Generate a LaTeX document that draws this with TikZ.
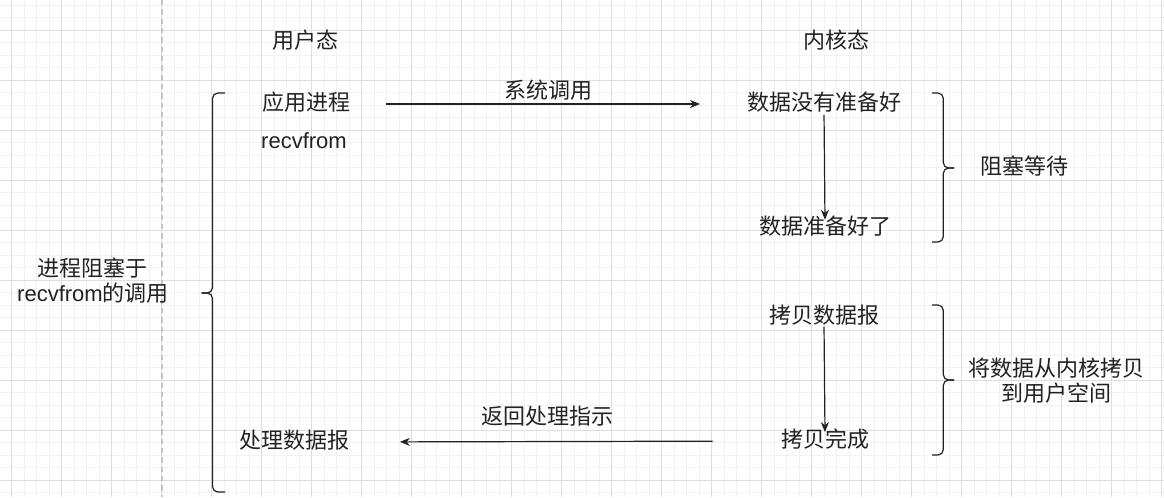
\documentclass[tikz,border=0pt]{standalone}
\usepackage{fontspec}
\setmainfont{Noto Sans CJK SC}
\newfontfamily\lat{Liberation Sans}
\usetikzlibrary{arrows.meta}
\definecolor{minorgrid}{HTML}{F2F2F2}
\definecolor{majorgrid}{HTML}{DEDEDE}
\definecolor{dashgray}{HTML}{C4C4C4}
\definecolor{ink}{HTML}{222222}
\tikzset{
  lbl/.style={inner sep=0pt, text height=0.96em, text depth=0.04em, font=\fontsize{16.5pt}{20pt}\selectfont, text=ink},
  multi/.style={inner sep=0pt, align=center, font=\fontsize{16.5pt}{18.8pt}\selectfont, text=ink},
  flow/.style={draw=ink, line width=0.9pt, -{Stealth[length=7.5pt,width=6pt]}},
  brace/.style={draw=ink, line width=0.9pt, rounded corners=4pt},
  minorline/.style={draw=minorgrid, line width=0.75pt},
  majorline/.style={draw=majorgrid, line width=0.75pt},
}
\begin{document}
\begin{tikzpicture}[x=0.75pt, y=-0.75pt]
\useasboundingbox (0,0) rectangle (1164,497);
\fill[white] (0,0) rectangle (1164,497);
% grid
\foreach \i in {0,...,93} {\draw[minorline] ({-0.8+12.5*\i},0) -- ({-0.8+12.5*\i},497);}
\foreach \i in {0,...,39} {\draw[minorline] (0,{5+12.5*\i}) -- (1164,{5+12.5*\i});}
\foreach \i in {0,...,23} {\draw[majorline] ({11.7+50*\i},0) -- ({11.7+50*\i},497);}
\foreach \i in {0,...,9} {\draw[majorline] (0,{30+50*\i}) -- (1164,{30+50*\i});}
% dashed separator
\draw[dashgray, line width=0.9pt, dash pattern=on 4pt off 3pt] (162,0) -- (162,497);

% headers
\node[lbl] (user) at (305,42) {用户态};
\node[lbl] (kernel) at (836,42) {内核态};

% user side
\node[lbl] (app) at (306,104) {应用进程};
\node[lbl] (recv) at (304,142) {\lat recvfrom};
\node[lbl] (proc) at (294,442) {处理数据报};

% kernel side
\node[lbl] (notready) at (824,104) {数据没有准备好};
\node[lbl] (ready) at (825,228) {数据准备好了};
\node[lbl] (copy) at (824,317) {拷贝数据报};
\node[lbl] (done) at (825,441) {拷贝完成};

% right labels
\node[lbl] (wait) at (1024,168) {阻塞等待};
\node[multi] (copydesc) at (1056,381) {将数据从内核拷贝\\到用户空间};
\node[multi] (block) at (93,281) {进程阻塞于\\{\lat recvfrom}的调用};

% connectors
\draw[flow, shorten <=27pt, shorten >=35pt] (app.east) -- (notready.west)
  node[lbl, pos=0.5, yshift=9pt] (syscall) {系统调用};
\draw[flow, shorten <=3pt, shorten >=1pt] (notready.south) -- (ready.north);
\draw[flow, shorten <=2pt, shorten >=1.5pt] (copy.south) -- (done.north);
\draw[flow, shorten <=51pt, shorten >=38pt] (done.west) -- (proc.east);
\node[lbl] (ret) at (547,418) {返回处理指示};

% braces
\coordinate (b1tip) at (954,168);
\draw[brace] (932,93) -| (943.3,168) -- (b1tip);
\draw[brace] (b1tip) -- (943.3,168) |- (932,242);
\coordinate (b2tip) at (954,380);
\draw[brace] (932,305) -| (943.3,380) -- (b2tip);
\draw[brace] (b2tip) -- (943.3,380) |- (932,455);
\coordinate (b3tip) at (201.5,293);
\draw[brace] (225,93) -| (212.5,293) -- (b3tip);
\draw[brace] (b3tip) -- (212.5,293) |- (225,492);
\end{tikzpicture}
\end{document}
